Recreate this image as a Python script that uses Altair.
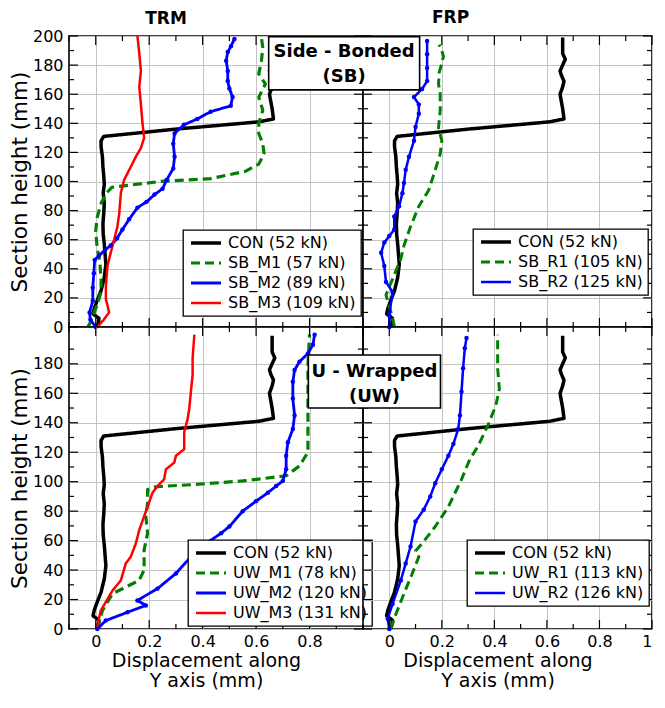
import altair as alt
import pandas as pd

FONT = "DejaVu Sans"

# ---------------- axis values ----------------
X_MAJOR = [0, 0.2, 0.4, 0.6, 0.8, 1.0]
X_MINOR = [-0.1, 0.1, 0.3, 0.5, 0.7, 0.9]
X_LABELS_LEFT = [0, 0.2, 0.4, 0.6, 0.8]
X_LABELS_RIGHT = [0, 0.2, 0.4, 0.6, 0.8, 1.0]
Y_MAJOR_TOP = [0, 20, 40, 60, 80, 100, 120, 140, 160, 180, 200]
Y_MINOR_TOP = [10, 30, 50, 70, 90, 110, 130, 150, 170, 190]
Y_MAJOR_BOT = [0, 20, 40, 60, 80, 100, 120, 140, 160, 180]
Y_MINOR_BOT = [10, 30, 50, 70, 90, 110, 130, 150, 170, 190]

# ---------------- data ----------------
con_x = [0.005, 0.01, 0.012, -0.01, -0.005, 0.005, 0.02, 0.032, 0.038, 0.035, 0.032, 0.028, 0.027,
         0.03, 0.032, 0.028, 0.032, 0.03, 0.027, 0.025, 0.02, 0.02, 0.03, 0.3, 0.61, 0.665, 0.66,
         0.655, 0.65, 0.66, 0.665, 0.655, 0.65, 0.66, 0.67, 0.66, 0.66, 0.66, 0.66]
con_y = [0, 3, 6, 9, 13, 18, 25, 34, 43, 50, 57, 64, 71, 78, 85, 92, 98, 104, 110, 117, 124, 128,
         131, 136, 141, 143, 150, 155, 160, 165, 169, 173, 176, 180, 184, 188, 192, 196, 199]

sb_m1_x = [-0.03, -0.02, -0.01, 0.005, 0.02, 0.02, 0.015, 0.005, 0.0, 0.005, 0.02, 0.04, 0.06, 0.24,
           0.43, 0.56, 0.61, 0.63, 0.625, 0.61, 0.61, 0.625, 0.61, 0.635, 0.61, 0.62, 0.625, 0.62]
sb_m1_y = [0, 3, 8, 15, 24, 33, 45, 55, 66, 75, 85, 92, 96, 100, 102, 107, 112, 119, 126, 133, 140,
           149, 158, 167, 174, 183, 192, 199]

sb_m2_x = [0.0, -0.02, -0.023, -0.011, -0.011, -0.007, -0.004, 0.012, 0.035, 0.056, 0.08, 0.1, 0.125,
           0.156, 0.19, 0.22, 0.25, 0.265, 0.29, 0.295, 0.29, 0.295, 0.33, 0.38, 0.43, 0.505, 0.512,
           0.5, 0.494, 0.494, 0.488, 0.494, 0.506, 0.519]
sb_m2_y = [0, 5, 10, 18, 27, 37, 46, 49, 53, 56, 61, 67, 74, 82, 86, 91, 95, 101, 109, 117, 126, 133,
           139, 143, 148, 152, 158, 164, 169, 176, 183, 189, 193, 198]

sb_m3_x = [0.005, 0.03, 0.05, 0.044, 0.038, 0.038, 0.044, 0.056, 0.069, 0.081, 0.088, 0.094, 0.106,
           0.131, 0.15, 0.169, 0.181, 0.175, 0.169, 0.163, 0.169, 0.163, 0.156]
sb_m3_y = [0, 5, 10, 15, 19, 28, 42, 51, 60, 69, 78, 92, 101, 110, 117, 123, 130, 140, 153, 165, 176,
           188, 200]

sb_r1_x = [0.02, 0.01, -0.0125, 0.0125, 0.044, 0.056, 0.081, 0.1125, 0.15, 0.175, 0.194, 0.2, 0.1875,
           0.194, 0.194, 0.1875, 0.19, 0.2, 0.206, 0.2, 0.19]
sb_r1_y = [0, 8, 22, 33, 47, 56, 69, 83, 94, 108, 119, 128, 137, 149, 160, 167, 175, 181, 186, 190, 194]

sb_r2_x = [0.0, 0.0, 0.0125, -0.0125, -0.019, -0.031, -0.019, 0.0, 0.019, 0.019, 0.0375, 0.05, 0.056,
           0.0625, 0.075, 0.094, 0.1, 0.1125, 0.1125, 0.094, 0.125, 0.144, 0.144, 0.144, 0.144]
sb_r2_y = [0, 8, 24, 31, 42, 51, 58, 62.5, 67, 76, 83, 92, 99, 108, 117, 128, 137.5, 146.6, 153, 158,
           163.6, 169, 178, 187.5, 196.6]

uw_m1_x = [0.006, 0.025, 0.0625, 0.1125, 0.1625, 0.181, 0.181, 0.194, 0.1875, 0.194, 0.194, 0.225,
           0.3625, 0.55, 0.7125, 0.7625, 0.794, 0.794, 0.794, 0.794, 0.8]
uw_m1_y = [0, 12.5, 24, 28.5, 33, 40, 53.7, 65, 76.5, 85.6, 94.7, 96.6, 98, 100.5, 104, 110.7, 120,
           133.6, 156, 179, 199.8]

uw_m2_x = [0.006, 0.0375, 0.119, 0.1875, 0.156, 0.231, 0.3, 0.356, 0.4125, 0.469, 0.5, 0.55, 0.6,
           0.644, 0.675, 0.7, 0.7125, 0.7125, 0.719, 0.7375, 0.744, 0.7375, 0.7375, 0.744, 0.7625,
           0.794, 0.8125, 0.819]
uw_m2_y = [0, 5.7, 11.4, 16, 19.4, 27.4, 37.7, 49, 58, 65, 69.6, 80, 86.8, 92.5, 97, 100.5, 108.4,
           117.6, 126.7, 135.8, 145, 156.4, 167.8, 175.8, 181.5, 187, 193, 199.8]

uw_m3_x = [0.0025, 0.019, 0.0625, 0.094, 0.1125, 0.131, 0.15, 0.1625, 0.181, 0.194, 0.2125, 0.231,
           0.256, 0.2625, 0.294, 0.3, 0.331, 0.331, 0.344, 0.35, 0.356, 0.3625, 0.3625, 0.369]
uw_m3_y = [0, 12.5, 26, 33, 44.5, 49, 58, 67, 76.5, 83, 92.5, 97, 101.6, 108.4, 113, 117.6, 122,
           133.6, 142.7, 149.5, 161, 172.4, 183.8, 199.8]

uw_r1_x = [0.006, 0.025, 0.056, 0.0875, 0.1125, 0.1, 0.125, 0.175, 0.225, 0.275, 0.306, 0.3375, 0.375,
           0.406, 0.419, 0.4125, 0.4125, 0.4125]
uw_r1_y = [0, 10, 24, 37.7, 49, 53, 58, 69.6, 83, 101.6, 115, 124, 138, 152, 163, 177, 190.6, 199.8]

uw_r2_x = [0.0, -0.006, 0.0125, 0.044, 0.0625, 0.081, 0.1, 0.131, 0.156, 0.175, 0.2, 0.225, 0.244,
           0.2625, 0.269, 0.275, 0.281, 0.2875, 0.294]
uw_r2_y = [0, 7, 17, 33, 44.5, 56, 73, 81, 90, 99, 108.4, 117.6, 125.6, 135.8, 145, 161, 177, 190.6,
           197.5]

# ---------------- styles ----------------
STYLE = {
    "con": ("#000000", [1, 0], 3.5),
    "m1": ("#008000", [9, 5], 2.5),
    "m2": ("#0000FF", [1, 0], 2.0),
    "m3": ("#FF0000", [1, 0], 1.8),
}

# annotation boxes (data coordinates of the right-hand panels); ty = first text line
NOTES = {
    "SB": {"text": "Side - Bonded\n(SB)", "x1": -0.459, "x2": 0.1155, "y1": 163.0, "y2": 199.5,
           "tx": -0.172, "ty": 189.0},
    "UW": {"text": "U - Wrapped\n(UW)", "x1": -0.308, "x2": 0.195, "y1": 150, "y2": 186,
           "tx": -0.0565, "ty": 174.5},
}

GRID = "#c4c4c4"
MAJOR_LEN = 9
MINOR_LEN = 5


def make_df(series):
    rows = []
    for name, _, xs, ys in series:
        for i, (xv, yv) in enumerate(zip(xs, ys)):
            rows.append({"series": name, "x": xv, "y": yv, "i": i})
    return pd.DataFrame(rows)


def panel(series, dotted, ydom, y_major, y_minor, show_x, x_label_vals, show_y,
          legend_pos, width, height, title=None, title_dx=0, title_offset=11, note=None):
    names = [s[0] for s in series]
    df = make_df(series)
    xs = alt.Scale(domain=[-0.1, 1.0], nice=False, zero=False)
    ys = alt.Scale(domain=ydom, nice=False, zero=False)

    leg = alt.Legend(title=None, orient="none", legendX=legend_pos[0], legendY=legend_pos[1],
                     direction="vertical", strokeColor="black", fillColor="white", padding=5,
                     cornerRadius=0, labelFont=FONT, labelFontSize=16, labelColor="black",
                     symbolType="M-1,0L5,0", symbolSize=100, symbolOffset=0, labelOffset=24,
                     rowPadding=4, labelLimit=400)

    x_axis = alt.Axis(orient="bottom", values=x_label_vals if show_x else X_MAJOR, grid=True,
                      gridColor=GRID, gridWidth=1, ticks=False, domain=False, labels=show_x,
                      labelFont=FONT, labelFontSize=16, labelColor="black", labelPadding=4,
                      labelFlush=True, format="~f",
                      title=["Displacement along", "Y axis (mm)"] if show_x else None,
                      titleFont=FONT, titleFontSize=19, titleFontWeight="normal",
                      titleColor="black", titleLineHeight=20, titlePadding=2,
                      titleX=width / 2 - 10)
    y_axis = alt.Axis(orient="left", values=y_major, grid=True, gridColor=GRID, gridWidth=1,
                      ticks=False, domain=False, labels=show_y, labelFont=FONT, labelFontSize=16,
                      labelColor="black", labelPadding=6, labelFlush=False, format="d",
                      title="Section height (mm)" if show_y else None, titleFont=FONT,
                      titleFontSize=21.5, titleFontWeight="normal", titleColor="black",
                      titlePadding=1)

    lines = alt.Chart(df).mark_line(strokeJoin="round").encode(
        x=alt.X("x:Q", scale=xs, axis=x_axis),
        y=alt.Y("y:Q", scale=ys, axis=y_axis),
        color=alt.Color("series:N", scale=alt.Scale(domain=names, range=[STYLE[s[1]][0] for s in series]), legend=leg),
        strokeDash=alt.StrokeDash("series:N", scale=alt.Scale(domain=names, range=[STYLE[s[1]][1] for s in series]), legend=leg),
        strokeWidth=alt.StrokeWidth("series:N", scale=alt.Scale(domain=names, range=[STYLE[s[1]][2] for s in series]), legend=leg),
        order="i:Q",
    )

    dots = alt.Chart(df[df["series"] == dotted]).mark_point(
        filled=True, size=20, color="#0000FF", opacity=1
    ).encode(
        x=alt.X("x:Q", scale=xs, axis=None),
        y=alt.Y("y:Q", scale=ys, axis=None),
    )

    # inward tick marks on all four edges, placed through the panel's scales
    def xticks(vals, length, at_top):
        y0 = 0 if at_top else height
        y1 = length if at_top else height - length
        return alt.Chart(pd.DataFrame({"v": vals})).mark_rule(color="black", strokeWidth=1.2).encode(
            x=alt.X("v:Q", scale=xs, axis=None), y=alt.value(y0), y2=alt.value(y1))

    def yticks(vals, length, at_right):
        x0 = width if at_right else 0
        x1 = width - length if at_right else length
        return alt.Chart(pd.DataFrame({"v": vals})).mark_rule(color="black", strokeWidth=1.2).encode(
            y=alt.Y("v:Q", scale=ys, axis=None), x=alt.value(x0), x2=alt.value(x1))

    tick_layers = [xticks(X_MAJOR, MAJOR_LEN, False), xticks(X_MAJOR, MAJOR_LEN, True),
                   xticks(X_MINOR, MINOR_LEN, False), xticks(X_MINOR, MINOR_LEN, True),
                   yticks(y_major, MAJOR_LEN, False), yticks(y_major, MAJOR_LEN, True),
                   yticks(y_minor, MINOR_LEN, False), yticks(y_minor, MINOR_LEN, True)]

    layers = [lines, dots] + tick_layers

    if note is not None:
        ndf = pd.DataFrame([note])
        box = alt.Chart(ndf).mark_rect(fill="white", stroke="black", strokeWidth=1.6).encode(
            x=alt.X("x1:Q", scale=xs, axis=None), x2="x2:Q",
            y=alt.Y("y1:Q", scale=ys, axis=None), y2="y2:Q",
        )
        txt = alt.Chart(ndf).mark_text(
            font=FONT, fontSize=18, fontWeight="bold", color="black", lineBreak="\n",
            lineHeight=25, align="center", baseline="middle"
        ).encode(
            x=alt.X("tx:Q", scale=xs, axis=None),
            y=alt.Y("ty:Q", scale=ys, axis=None),
            text="text:N",
        )
        layers += [box, txt]

    props = dict(width=width, height=height)
    if title is not None:
        props["title"] = alt.TitleParams(text=title, font=FONT, fontSize=17, fontWeight="bold",
                                         color="black", anchor="middle", frame="group",
                                         dx=title_dx, offset=title_offset)
    return alt.layer(*layers).resolve_axis(x="independent", y="independent").properties(**props)


W_LEFT, W_RIGHT = 294, 289

tl = panel([("CON (52 kN)", "con", con_x, con_y),
            ("SB_M1 (57 kN)", "m1", sb_m1_x, sb_m1_y),
            ("SB_M2 (89 kN)", "m2", sb_m2_x, sb_m2_y),
            ("SB_M3 (109 kN)", "m3", sb_m3_x, sb_m3_y)],
           "SB_M2 (89 kN)", [0, 200], Y_MAJOR_TOP, Y_MINOR_TOP, False, X_MAJOR, True,
           (114, 194), W_LEFT, 291, title="TRM", title_dx=-50, title_offset=0)

tr = panel([("CON (52 kN)", "con", con_x, con_y),
            ("SB_R1 (105 kN)", "m1", sb_r1_x, sb_r1_y),
            ("SB_R2 (125 kN)", "m2", sb_r2_x, sb_r2_y)],
           "SB_R2 (125 kN)", [0, 200], Y_MAJOR_TOP, Y_MINOR_TOP, False, X_MAJOR, False,
           (110, 193), W_RIGHT, 291, title="FRP", title_dx=-57, title_offset=8.5, note=NOTES["SB"])

bl = panel([("CON (52 kN)", "con", con_x, con_y),
            ("UW_M1 (78 kN)", "m1", uw_m1_x, uw_m1_y),
            ("UW_M2 (120 kN)", "m2", uw_m2_x, uw_m2_y),
            ("UW_M3 (131 kN)", "m3", uw_m3_x, uw_m3_y)],
           "UW_M2 (120 kN)", [0, 205], Y_MAJOR_BOT, Y_MINOR_BOT, True, X_LABELS_LEFT, True,
           (119, 213), W_LEFT, 302)

br = panel([("CON (52 kN)", "con", con_x, con_y),
            ("UW_R1 (113 kN)", "m1", uw_r1_x, uw_r1_y),
            ("UW_R2 (126 kN)", "m2", uw_r2_x, uw_r2_y)],
           "UW_R2 (126 kN)", [0, 205], Y_MAJOR_BOT, Y_MINOR_BOT, True, X_LABELS_RIGHT, False,
           (104, 213), W_RIGHT, 302, note=NOTES["UW"])

chart = alt.concat(tl, tr, bl, br, columns=2, spacing=0, bounds="flush", align="each").resolve_scale(
    color="independent", strokeDash="independent", strokeWidth="independent",
    x="independent", y="independent"
).properties(
    padding={"left": 0, "top": 0, "right": 0, "bottom": 0}
).configure_view(
    stroke="black", strokeWidth=1.6
).configure_legend(
    strokeWidth=1.3
)

chart.save("out.html", embed_options={"renderer": "svg", "actions": False})
